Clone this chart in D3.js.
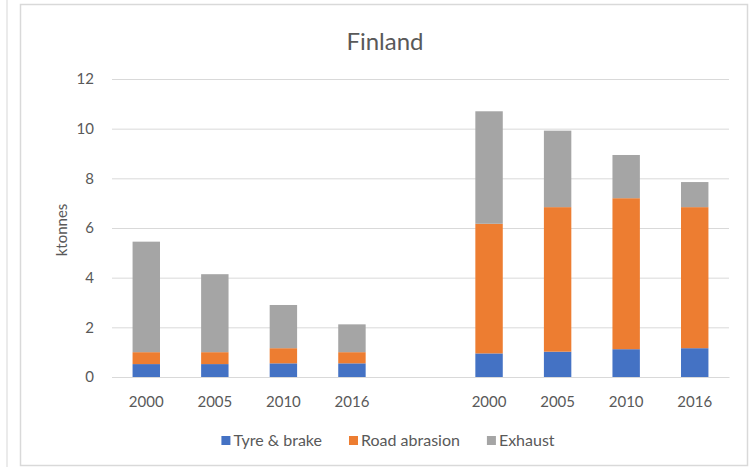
<!DOCTYPE html>
<html>
<head>
<meta charset="utf-8">
<script src="https://cdn.jsdelivr.net/npm/d3@7/dist/d3.min.js"></script>
<style>
  html, body { margin: 0; padding: 0; background: #fff; }
  svg { display: block; }
  text { font-family: Lato, "Open Sans", sans-serif; fill: #595959; }
</style>
</head>
<body>
<svg id="chart" width="754" height="467"></svg>
<script>
// Emission sources in Finland, ktonnes; the blank slot separates the two groups
const years = ["2000", "2005", "2010", "2016", "", "2000", "2005", "2010", "2016"];
const tyreBrake    = [0.52, 0.52, 0.55, 0.55, 0, 0.95, 1.02, 1.12, 1.16];
const roadAbrasion = [0.48, 0.48, 0.61, 0.45, 0, 5.22, 5.82, 6.08, 5.68];
const exhaust      = [4.45, 3.14, 1.74, 1.12, 0, 4.53, 3.08, 1.74, 1.01];
const seriesNames  = ["Tyre & brake", "Road abrasion", "Exhaust"];
const seriesColors = ["#4472C4", "#ED7D31", "#A5A5A5"];
const yTicks = [0, 2, 4, 6, 8, 10, 12];

const rows = years.map((y, i) => ({
  key: "c" + i, year: y,
  "Tyre & brake": tyreBrake[i],
  "Road abrasion": roadAbrasion[i],
  "Exhaust": exhaust[i]
}));

const svg = d3.select("#chart");

// outer frame
svg.append("line").attr("x1", 7).attr("x2", 7).attr("y1", 0).attr("y2", 467)
  .attr("stroke", "#e4e4e4").attr("stroke-width", 1.5);
svg.append("rect").attr("x", 20.5).attr("y", 4.5).attr("width", 727).attr("height", 461)
  .attr("fill", "#fff").attr("stroke", "#d9d9d9").attr("stroke-width", 1.5);

const x = d3.scaleBand().domain(rows.map(d => d.key)).range([112, 729])
  .paddingInner(0.6).paddingOuter(0.3);
const y = d3.scaleLinear().domain([0, 12]).range([377, 79]);

// gridlines + y labels
const yAxis = d3.axisLeft(y).tickValues(yTicks).tickSize(-(729 - 112)).tickPadding(18)
  .tickFormat(d3.format("d"));
const gy = svg.append("g").attr("transform", "translate(112,0)").call(yAxis);
gy.select(".domain").remove();
gy.selectAll(".tick line").attr("stroke", "#d9d9d9").attr("stroke-width", 1);
gy.selectAll(".tick text").attr("font-size", 15).style("fill", "#595959")
  .style("font-family", "Lato, 'Open Sans', sans-serif");

// stacked bars
const stack = d3.stack().keys(seriesNames);
const layers = stack(rows);
svg.append("g").selectAll("g").data(layers).join("g")
  .attr("fill", (d, i) => seriesColors[i])
  .selectAll("rect").data(d => d.filter(p => p[1] > p[0])).join("rect")
  .attr("x", d => x(d.data.key))
  .attr("width", x.bandwidth())
  .attr("y", d => y(d[1]))
  .attr("height", d => y(d[0]) - y(d[1]));

// x labels
const xAxis = d3.axisBottom(x).tickSize(0).tickPadding(19)
  .tickFormat(k => rows.find(r => r.key === k).year);
const gx = svg.append("g").attr("transform", "translate(0,377)").call(xAxis);
gx.select(".domain").attr("stroke", "#d9d9d9");
gx.selectAll(".tick text").attr("font-size", 15).style("fill", "#595959")
  .style("font-family", "Lato, 'Open Sans', sans-serif");

// title
svg.append("text").attr("x", 385).attr("y", 50).attr("text-anchor", "middle")
  .attr("font-size", 24).text("Finland");

// y axis title
svg.append("text").attr("transform", "translate(67,230) rotate(-90)")
  .attr("text-anchor", "middle").attr("font-size", 15).text("ktonnes");

// legend
const legend = svg.append("g");
let lx = 0;
seriesNames.forEach((name, i) => {
  const g = legend.append("g").attr("transform", `translate(${lx},0)`);
  g.append("rect").attr("x", 0).attr("y", -5).attr("width", 9).attr("height", 9)
    .attr("fill", seriesColors[i]);
  const t = g.append("text").attr("x", 12).attr("y", 5).attr("font-size", 16).text(name);
  lx += 12 + t.node().getComputedTextLength() + 27;
});
const lw = lx - 27;
legend.attr("transform", `translate(${388 - lw / 2},441)`);
</script>
</body>
</html>
